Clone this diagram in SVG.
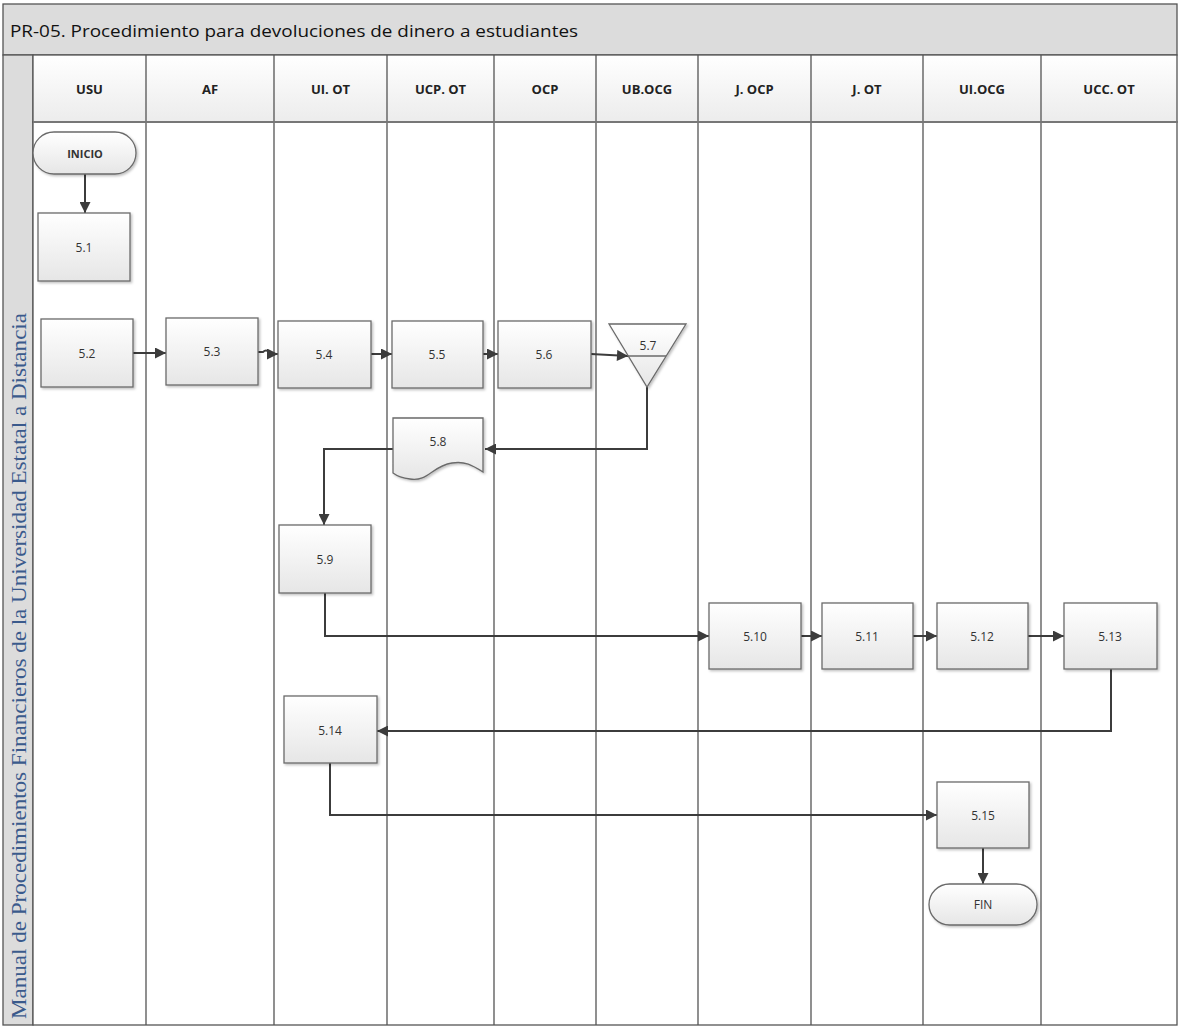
<svg xmlns="http://www.w3.org/2000/svg" width="1178" height="1026" viewBox="0 0 1178 1026">
<style>
.lane{stroke:#555;stroke-width:1.3;fill:none}
.box{fill:url(#boxg);stroke:#6a6a6a;stroke-width:1.3;filter:url(#sh)}
.lbl{font-family:"Open Sans","Liberation Sans",sans-serif;font-size:12px;fill:#333;text-anchor:middle;dominant-baseline:central}
.term{font-family:"Open Sans","Liberation Sans",sans-serif;font-size:11px;fill:#333;font-weight:bold;text-anchor:middle;dominant-baseline:central}
.hdr{font-family:"Open Sans","Liberation Sans",sans-serif;font-size:13px;font-weight:bold;fill:#222;text-anchor:middle;dominant-baseline:central}
.con{stroke:#3c3c3c;stroke-width:2;fill:none;marker-end:url(#arr)}
</style>
<defs>
<linearGradient id="boxg" x1="0" y1="0" x2="0" y2="1"><stop offset="0" stop-color="#ffffff"/><stop offset="1" stop-color="#e6e6e6"/></linearGradient>
<linearGradient id="hdrg" x1="0" y1="0" x2="0" y2="1"><stop offset="0" stop-color="#ffffff"/><stop offset="1" stop-color="#ececec"/></linearGradient>
<filter id="sh" x="-10%" y="-10%" width="130%" height="130%"><feDropShadow dx="1.5" dy="1.5" stdDeviation="1.2" flood-color="#000" flood-opacity="0.25"/></filter>
<marker id="arr" viewBox="0 0 10 10" refX="10" refY="5" markerWidth="12" markerHeight="11" markerUnits="userSpaceOnUse" orient="auto"><path d="M0,0 L10,5 L0,10 z" fill="#3c3c3c"/></marker>
</defs>
<rect width="1178" height="1026" fill="#fff"/>
<g id="frame">
<rect x="3" y="4" width="1174" height="51" fill="#dcdcdc" stroke="#555" stroke-width="1.3"/>
<text x="10" y="37" font-family="'Open Sans','Liberation Sans',sans-serif" font-size="17" fill="#111" textLength="568" lengthAdjust="spacingAndGlyphs">PR-05. Procedimiento para devoluciones de dinero a estudiantes</text>
<rect x="3" y="55" width="30" height="970" fill="#dcdcdc" stroke="#555" stroke-width="1.3"/>
<text transform="translate(26,1019) rotate(-90)" font-family="'Liberation Serif',serif" font-size="21" fill="#3a5a8c" textLength="706" lengthAdjust="spacingAndGlyphs">Manual de Procedimientos Financieros de la Universidad Estatal a Distancia</text>
<rect x="33" y="55" width="1144" height="67" fill="url(#hdrg)" stroke="#555" stroke-width="1.3"/>
<rect x="33" y="122" width="1144" height="903" fill="#fff" stroke="#555" stroke-width="1.3"/>
<path class="lane" d="M146 55V1025M274 55V1025M387 55V1025M494 55V1025M596 55V1025M698 55V1025M811 55V1025M923 55V1025M1041 55V1025"/>
<line x1="33" y1="122" x2="1177" y2="122" stroke="#777" stroke-width="2"/>
<text class="hdr" x="89.5" y="89">USU</text>
<text class="hdr" x="210" y="89">AF</text>
<text class="hdr" x="330.5" y="89">UI. OT</text>
<text class="hdr" x="440.5" y="89">UCP. OT</text>
<text class="hdr" x="545" y="89">OCP</text>
<text class="hdr" x="647" y="89">UB.OCG</text>
<text class="hdr" x="754.5" y="89">J. OCP</text>
<text class="hdr" x="867" y="89">J. OT</text>
<text class="hdr" x="982" y="89">UI.OCG</text>
<text class="hdr" x="1109" y="89">UCC. OT</text>
</g>
<g id="connectors">
<path class="con" d="M85 174V213"/>
<path class="con" d="M133 353H166"/>
<path class="con" d="M258 352H263Q266 349 269 352T275 354H278"/>
<path class="con" d="M371 354H392"/>
<path class="con" d="M483 354H498"/>
<path class="con" d="M591 354L628 356"/>
<path class="con" d="M647 387V449H485"/>
<path class="con" d="M393 449H324V525"/>
<path class="con" d="M325 593V636H709"/>
<path class="con" d="M801 636H822"/>
<path class="con" d="M913 636H937"/>
<path class="con" d="M1028 636H1064"/>
<path class="con" d="M1111 669V731H377"/>
<path class="con" d="M330 763V815H937"/>
<path class="con" d="M983 848V884"/>
</g>
<g id="n-inicio"><rect class="box" x="33" y="132" width="103" height="42" rx="21"/><text class="term" x="85" y="153">INICIO</text></g>
<g id="n-5-1"><rect class="box" x="38" y="213" width="92" height="68"/><text class="lbl" x="84" y="247">5.1</text></g>
<g id="n-5-2"><rect class="box" x="41" y="319" width="92" height="68"/><text class="lbl" x="87" y="353">5.2</text></g>
<g id="n-5-3"><rect class="box" x="166" y="318" width="92" height="67"/><text class="lbl" x="212" y="351">5.3</text></g>
<g id="n-5-4"><rect class="box" x="278" y="321" width="93" height="67"/><text class="lbl" x="324" y="354">5.4</text></g>
<g id="n-5-5"><rect class="box" x="392" y="321" width="91" height="67"/><text class="lbl" x="437" y="354">5.5</text></g>
<g id="n-5-6"><rect class="box" x="498" y="321" width="93" height="67"/><text class="lbl" x="544" y="354">5.6</text></g>
<g id="n-5-7"><polygon class="box" points="609,324 686,324 647,387"/><line x1="628" y1="356" x2="666" y2="356" stroke="#6a6a6a" stroke-width="1.3"/><text class="lbl" x="648" y="345">5.7</text></g>
<g id="n-5-8"><path class="box" d="M393 418H483V472C472 465 465 461 452 463C432 466 428 482 410 479C402 478 397 476 393 473Z"/><text class="lbl" x="438" y="441">5.8</text></g>
<g id="n-5-9"><rect class="box" x="279" y="525" width="92" height="68"/><text class="lbl" x="325" y="559">5.9</text></g>
<g id="n-5-10"><rect class="box" x="709" y="603" width="92" height="66"/><text class="lbl" x="755" y="636">5.10</text></g>
<g id="n-5-11"><rect class="box" x="822" y="603" width="91" height="66"/><text class="lbl" x="867" y="636">5.11</text></g>
<g id="n-5-12"><rect class="box" x="937" y="603" width="91" height="66"/><text class="lbl" x="982" y="636">5.12</text></g>
<g id="n-5-13"><rect class="box" x="1064" y="603" width="93" height="66"/><text class="lbl" x="1110" y="636">5.13</text></g>
<g id="n-5-14"><rect class="box" x="284" y="696" width="93" height="67"/><text class="lbl" x="330" y="730">5.14</text></g>
<g id="n-5-15"><rect class="box" x="937" y="782" width="92" height="66"/><text class="lbl" x="983" y="815">5.15</text></g>
<g id="n-fin"><rect class="box" x="929" y="884" width="108" height="41" rx="20.5"/><text class="lbl" x="983" y="904">FIN</text></g>
</svg>
